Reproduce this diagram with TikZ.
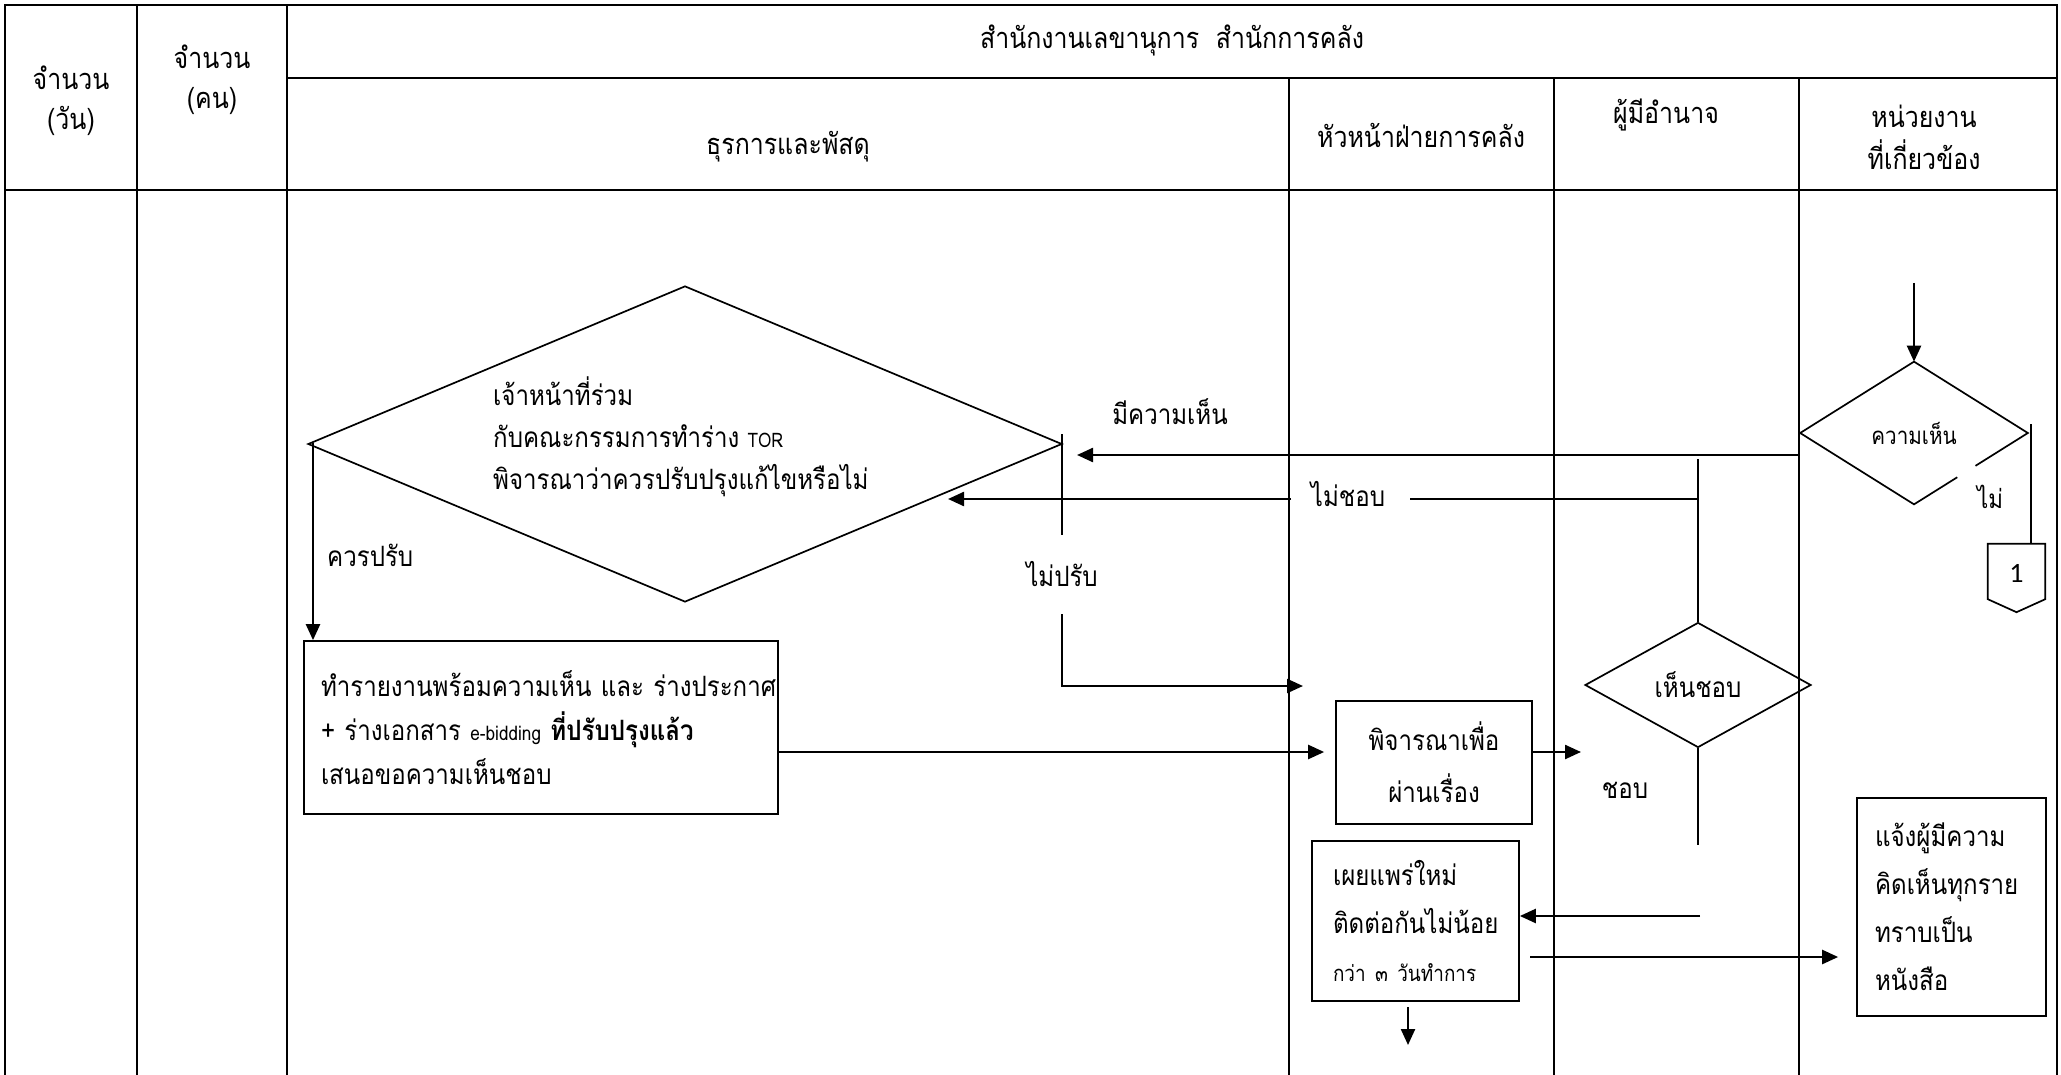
\documentclass[tikz,border=0pt]{standalone}
\usepackage{fontspec}
\usetikzlibrary{shapes.geometric,arrows.meta,calc}
\newfontfamily\thai[Script=Thai,FakeStretch=0.86]{Loma}
\newfontfamily\numfont{Carlito}

\begin{document}
\begin{tikzpicture}[x=1pt,y=-1pt,
  grid/.style={line width=2.2pt},
  boxnode/.style={draw,rectangle,line width=1.7pt,inner ysep=0pt},
  decision/.style={draw,diamond,line width=1.7pt,inner sep=0pt},
  flow/.style={line width=2.4pt,-{Triangle[length=16pt,width=14pt]}},
  flowline/.style={line width=2.4pt},
  plain/.style={line width=1.7pt},
  txt/.style={inner sep=0pt,font=\thai\fontsize{28}{44}\selectfont},
  head/.style={inner sep=0pt,align=center,font=\thai\fontsize{29}{40}\selectfont},
  small/.style={inner sep=0pt,font=\thai\fontsize{24}{30}\selectfont},
]
\useasboundingbox (0,0) rectangle (2061,1075);
\fill[white] (0,0) rectangle (2061,1075);

% ---- table frame ----
\draw[grid] (5,1075) -- (5,5) -- (2057,5) -- (2057,1075);
\draw[grid] (137,5) -- (137,1075);
\draw[grid] (287,5) -- (287,1075);
\draw[grid] (287,78) -- (2057,78);
\draw[grid] (5,190) -- (2057,190);
\draw[grid] (1289,78) -- (1289,1075);
\draw[grid] (1554,78) -- (1554,1075);
\draw[grid] (1799,78) -- (1799,1075);

% ---- header texts ----
\node[head] (hdtitle) at (1172,40) {สำนักงานเลขานุการ\ \ สำนักการคลัง};
\node[head] (hddays) at (71,101) {จำนวน\\(วัน)};
\node[head] (hdpeople) at (212,80) {จำนวน\\(คน)};
\node[head] (hdadmin) at (788,147) {ธุรการและพัสดุ};
\node[head] (hdchief) at (1421,135) {หัวหน้าฝ่ายการคลัง};
\node[head] (hdauth) at (1666,115) {ผู้มีอำนาจ};
\node[head,font=\thai\fontsize{29}{42}\selectfont] (hdunit) at (1924,137) {หน่วยงาน\\ที่เกี่ยวข้อง};

% ---- flow shapes ----
\node[decision,minimum width=754pt,minimum height=316pt,shape aspect=2.4] (qbig) at (685,444) {};
\node[txt,anchor=west,align=left,font=\thai\fontsize{28}{42}\selectfont] (qtext) at (493,437)
  {เจ้าหน้าที่ร่วม\\กับคณะกรรมการทำร่าง {\fontsize{20}{42}\selectfont TOR}\\พิจารณาว่าควรปรับปรุงแก้ไขหรือไม่};

\node[boxnode,txt,minimum height=173pt,text width=440pt,inner xsep=17pt,align=left] (report) at (541,727.5)
  {\mbox{ทำรายงานพร้อมความเห็น และ ร่างประกาศ}\\
   \mbox{+ ร่างเอกสาร {\fontsize{20}{44}\selectfont e-bidding} \textbf{ที่ปรับปรุงแล้ว}}\\
   \mbox{เสนอขอความเห็นชอบ}};

\node[boxnode,txt,minimum width=196pt,minimum height=123pt,align=center,font=\thai\fontsize{28}{52}\selectfont] (approve) at (1434,762.5)
  {พิจารณาเพื่อ\\ผ่านเรื่อง};

\node[decision,txt,draw,line width=1.7pt,minimum width=226pt,minimum height=125pt,shape aspect=1.8] (agree) at (1698,685) {เห็นชอบ};

\node[boxnode,txt,minimum height=160pt,text width=165pt,inner xsep=21pt,align=left,font=\thai\fontsize{28}{48}\selectfont] (publish) at (1415.5,921)
  {\mbox{เผยแพร่ใหม่}\\\mbox{ติดต่อกันไม่น้อย}\\\mbox{\fontsize{22}{48}\selectfont กว่า ๓ วันทำการ}};

\node[boxnode,txt,minimum height=218pt,text width=153pt,inner xsep=18pt,align=left,font=\thai\fontsize{28}{48}\selectfont] (notify) at (1951.5,907)
  {\mbox{แจ้งผู้มีความ}\\\mbox{คิดเห็นทุกราย}\\\mbox{ทราบเป็น}\\\mbox{หนังสือ}};

\node[decision,small,minimum width=226pt,minimum height=141pt,shape aspect=1.6,draw=none] (opinion) at (1914,433) {ความเห็น};
\draw[plain] (opinion.west) -- (opinion.north) -- (opinion.east)
  -- ($(opinion.east)!0.46!(opinion.south)$)
  ($(opinion.east)!0.62!(opinion.south)$) -- (opinion.south) -- (opinion.west);

% off-page connector
\node[inner sep=0pt,minimum width=57pt,minimum height=68pt,text depth=9pt,font=\numfont\fontsize{28}{28}\selectfont] (offpage) at (2016.5,578) {1};
\draw[plain] (offpage.north west) -- (offpage.north east)
  -- ($(offpage.north east)!0.81!(offpage.south east)$) -- (offpage.south)
  -- ($(offpage.north west)!0.81!(offpage.south west)$) -- cycle;

% ---- labels ----
\node[txt] (lblhas) at (1170,412) {มีความเห็น};
\node[txt] (lbldis) at (1348,494) {ไม่ชอบ};
\node[txt] (lblnofix) at (1062,574) {ไม่ปรับ};
\node[txt,anchor=west] (lblfix) at (327,555) {ควรปรับ};
\node[txt] (lblok) at (1625,790) {ชอบ};
\node[txt,font=\thai\fontsize{26}{30}\selectfont] (lblno) at (1990,497) {ไม่};

% ---- connector points ----
\coordinate (start) at (1914,283);
\coordinate (hasfrom) at (1799,455);
\coordinate (hasto) at (1077,455);
\coordinate (disfrom) at (1698,499);
\coordinate (disgapR) at (1410,499);
\coordinate (disgapL) at (1291,499);
\coordinate (disto) at (948,499);
\coordinate (vtop) at (1698,459);
\coordinate (vbot) at (1698,845);
\coordinate (fixfrom) at (313,443);
\coordinate (nf0) at (1062,434);
\coordinate (nf1) at (1062,535);
\coordinate (nf2) at (1062,614);
\coordinate (nf3) at (1062,686);
\coordinate (nf4) at (1303,686);
\coordinate (row) at (0,752);
\coordinate (okend) at (1581,752);
\coordinate (pubfrom) at (1700,916);
\coordinate (pubout) at (1530,957);
\coordinate (pdown) at (1408,1007);
\coordinate (pdownend) at (1408,1045);
\coordinate (nofrom) at (2031,424);

% ---- connectors ----
\draw[flow] (start) -- (opinion.north);
\draw[flow] (hasfrom) -- (hasto);
\draw[flowline] (disfrom) -- (disgapR);
\draw[flow] (disgapL) -- (disto);
\draw[plain] (vtop) -- (agree.north);
\draw[plain] (agree.south) -- (vbot);
\draw[flow] (fixfrom) -- (fixfrom |- report.north);
\draw[plain] (nf0) -- (nf1);
\draw[flow] (nf2) -- (nf3) -- (nf4);
\draw[flow,shorten >=11pt] (report.east |- row) -- (approve.west |- row);
\draw[flow] (approve.east |- okend) -- (okend);
\draw[flow] (pubfrom) -- (publish.east |- pubfrom);
\draw[flow,shorten >=18pt] (pubout) -- (notify.west |- pubout);
\draw[flow] (pdown) -- (pdownend);
\draw[plain] (nofrom) -- (nofrom |- offpage.north);
\end{tikzpicture}
\end{document}
